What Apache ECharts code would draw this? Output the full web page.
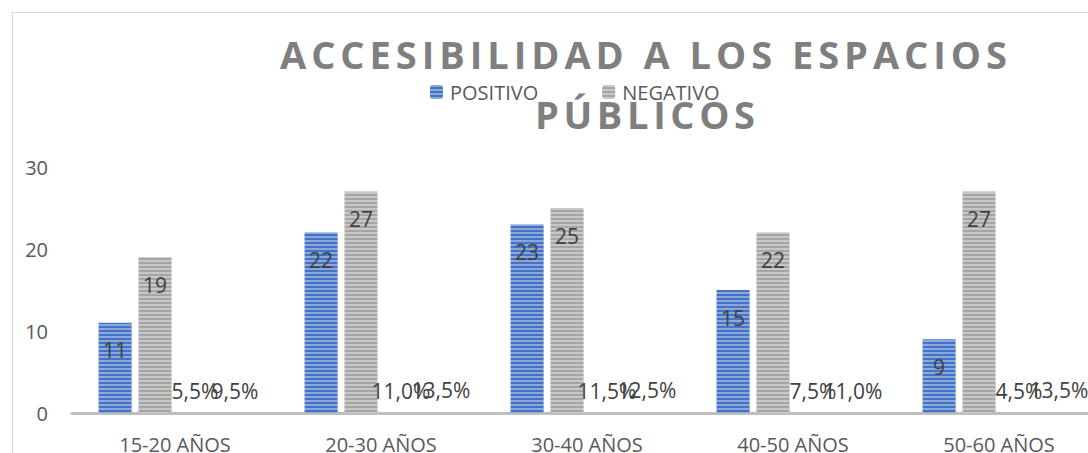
<!DOCTYPE html>
<html>
<head>
<meta charset="utf-8">
<script src="https://cdn.jsdelivr.net/npm/echarts@6/dist/echarts.min.js"></script>
<style>
html,body{margin:0;padding:0;background:#fff;}
#chart{width:1088px;height:453px;}
</style>
</head>
<body>
<div id="chart"></div>
<script>
const categories = ['15-20 AÑOS', '20-30 AÑOS', '30-40 AÑOS', '40-50 AÑOS', '50-60 AÑOS'];
const positivo = [11, 22, 23, 15, 9];
const negativo = [19, 27, 25, 22, 27];
const pctPositivo = [0.055, 0.110, 0.115, 0.075, 0.045];
const pctNegativo = [0.095, 0.135, 0.125, 0.110, 0.135];
const yTicks = [0, 10, 20, 30];
const titleLines = ['ACCESIBILIDAD A LOS ESPACIOS', 'PÚBLICOS'];

const FONT = '"Open Sans", "Noto Sans", sans-serif';
const chart = echarts.init(document.getElementById('chart'), null, {renderer: 'svg'});

const stripe = {
  symbol: 'rect', symbolSize: 1, dashArrayX: [1, 0], dashArrayY: [2, 2],
  rotation: 0, color: 'rgba(255,255,255,0.38)'
};

const countLabel = {
  show: true, position: 'insideTop', distance: 17,
  color: '#404040', fontSize: 21, lineHeight: 21, fontFamily: FONT
};
const pctLabel = {
  show: true, position: 'top', distance: 11,
  color: '#404040', fontSize: 21, lineHeight: 21, fontFamily: FONT,
  formatter: p => (p.value * 100).toFixed(1).replace('.', ',') + '%'
};

chart.setOption({
  animation: false,
  backgroundColor: '#fff',
  title: [
    {text: titleLines[0], left: 280, top: 35, padding: 0,
     textStyle: {fontFamily: FONT, fontSize: 38, fontWeight: 'bold', color: '#7f7f7f', lineHeight: 38}},
    {text: titleLines[1], left: 535, top: 95, padding: 0,
     textStyle: {fontFamily: FONT, fontSize: 38, fontWeight: 'bold', color: '#7f7f7f', lineHeight: 38}}
  ],
  legend: {
    data: ['POSITIVO', 'NEGATIVO'],
    left: 425, top: 77,
    itemWidth: 13, itemHeight: 14, itemGap: 64,
    textStyle: {fontFamily: FONT, fontSize: 20, color: '#595959', padding: [0, 0, 0, 2]}
  },
  graphic: [{
    type: 'rect', z: -10, silent: true,
    shape: {x: 12.5, y: 12.5, width: 1200, height: 600},
    style: {fill: 'none', stroke: '#d9d9d9', lineWidth: 1}
  }],
  grid: {left: 72, top: 167, width: 1030, height: 246, outerBoundsMode: 'none', containLabel: false},
  xAxis: {
    type: 'category', data: categories,
    axisLine: {show: true, lineStyle: {color: '#bfbfbf', width: 3}},
    axisTick: {show: false},
    axisLabel: {fontFamily: FONT, fontSize: 20, color: '#595959', margin: 21}
  },
  yAxis: {
    type: 'value', min: yTicks[0], max: yTicks[yTicks.length - 1], interval: 10,
    axisLine: {show: false}, axisTick: {show: false},
    splitLine: {show: false},
    axisLabel: {fontFamily: FONT, fontSize: 20, color: '#595959', margin: 24}
  },
  series: [
    {name: 'POSITIVO', type: 'bar', data: positivo, barWidth: 33, barGap: '21%',
     itemStyle: {color: '#4472c4', decal: stripe}, label: countLabel},
    {name: 'NEGATIVO', type: 'bar', data: negativo, barWidth: 33, barGap: '21%',
     itemStyle: {color: '#a5a5a5', decal: stripe}, label: countLabel},
    {name: '% POSITIVO', type: 'bar', data: pctPositivo, barWidth: 33, barGap: '21%',
     itemStyle: {color: '#bfbfbf'}, label: pctLabel},
    {name: '% NEGATIVO', type: 'bar', data: pctNegativo, barWidth: 33, barGap: '21%',
     itemStyle: {color: '#bfbfbf'}, label: pctLabel}
  ]
});

// letter-spacing for the title lines to match the spaced-out original
(function () {
  const c = document.createElement('canvas').getContext('2d');
  c.font = 'bold 38px ' + FONT;
  const targets = [[titleLines[0], 727], [titleLines[1], 220]];
  const texts = document.querySelectorAll('#chart svg text');
  targets.forEach(([t, w]) => {
    const mw = c.measureText(t).width;
    const ls = (w - mw) / (t.length - 1);
    texts.forEach(el => {
      if (el.textContent === t) el.style.letterSpacing = ls.toFixed(2) + 'px';
    });
  });
})();
</script>
</body>
</html>
